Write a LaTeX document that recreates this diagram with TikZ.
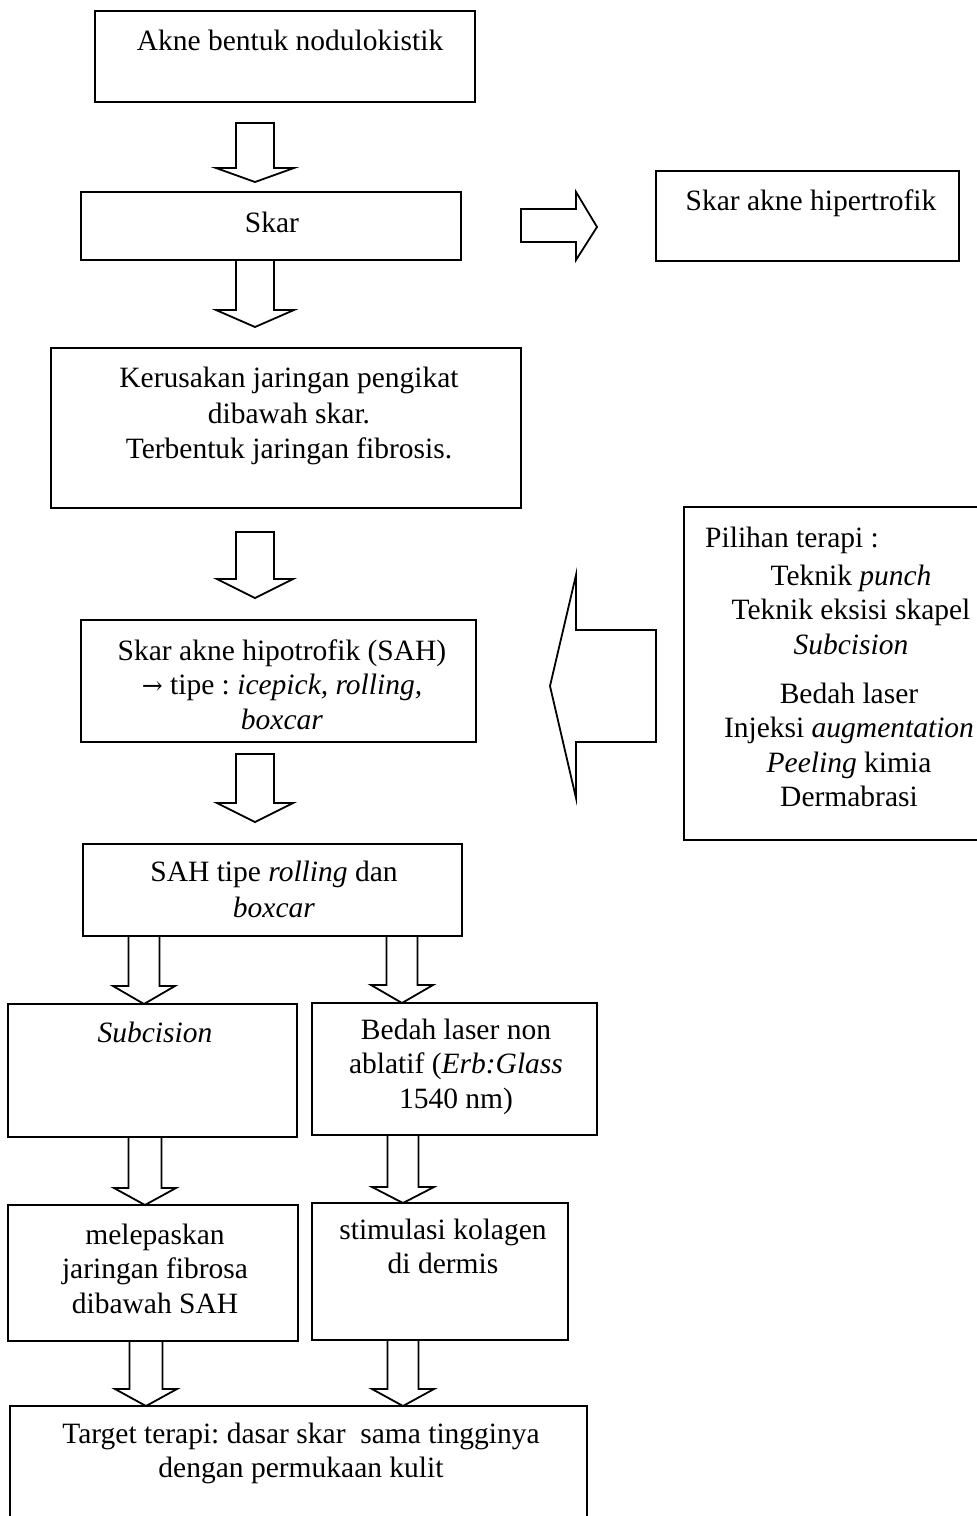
\documentclass[tikz,border=0pt]{standalone}
\usepackage{fontspec}
\setmainfont{Liberation Serif}
\newfontfamily\arrfont{DejaVu Serif}
\usetikzlibrary{fit}
\newcommand\fs{\fontsize{29.5}{34.5}\selectfont\frenchspacing}
\newcommand\dnarrow[6]{%
  \draw[blk] ({#1-#5},#2) -- ({#1-#5},#3) -- ({#1-#6},#3) -- (#1,#4) -- ({#1+#6},#3) -- ({#1+#5},#3) -- ({#1+#5},#2) -- cycle;}
\tikzset{
  box/.style={draw, line width=2pt, inner sep=0pt, outer sep=0pt},
  blk/.style={draw, line width=1.8pt, line join=miter, fill=white},
  txt/.style={font=\fs, align=center, inner sep=0pt, anchor=north},
}
\begin{document}
\begin{tikzpicture}[x=1pt,y=-1pt]
\useasboundingbox (0,0) rectangle (977,1516);
\fill[white] (0,0) rectangle (977,1516);
\clip (0,0) rectangle (977,1516);

% boxes
\node[box, fit={(95,11) (475,102)}] (b1) {};
\node[box, fit={(81,192) (461,260)}] (b2) {};
\node[box, fit={(656,171) (959,261)}] (b3) {};
\node[box, fit={(51,348) (521,508)}] (b4) {};
\node[box, fit={(81,620) (476,742)}] (b5) {};
\node[box, fit={(684,507) (995,840)}] (b6) {};
\node[box, fit={(83,844) (462,936)}] (b7) {};
\node[box, fit={(8,1004) (297,1137)}] (b8) {};
\node[box, fit={(312,1003) (597,1135)}] (b9) {};
\node[box, fit={(8,1205) (298,1341)}] (b10) {};
\node[box, fit={(312,1203) (568,1340)}] (b11) {};
\node[box, fit={(10,1406) (587,1535)}] (b12) {};

% texts
\node[txt] (t1) at (290,{50-24.15}) {\strut Akne bentuk nodulokistik};
\node[txt] (t2) at (272,{232-24.15}) {\strut Skar};
\node[txt] (t3) at (811,{210-24.15}) {\strut Skar akne hipertrofik};
\node[txt, font=\fontsize{29.5}{35.5}\selectfont\frenchspacing] (t4) at (289,{387-24.15})
  {\strut Kerusakan jaringan pengikat\\dibawah skar.\\Terbentuk jaringan fibrosis.};
\node[txt] (t5) at (282,{660-24.15})
  {\strut Skar akne hipotrofik (SAH)\\{\arrfont\fontsize{25}{34.5}\selectfont →} tipe : \textit{icepick, rolling,}\\\textit{boxcar}};
\node[font=\fs, inner sep=0pt, anchor=base west] (t6) at (705,547) {Pilihan terapi :};
\node[txt] (t6a) at (851,{585-24.15})
  {\strut Teknik \textit{punch}\\Teknik eksisi skapel\\\textit{Subcision}};
\node[txt] (t6b) at (849,{703-24.15})
  {\strut Bedah laser\\Injeksi \textit{augmentation}\\\textit{Peeling} kimia\\Dermabrasi};
\node[txt, font=\fontsize{29.5}{36}\selectfont\frenchspacing] (t7) at (274,{880-24.15})
  {\strut SAH tipe \textit{rolling} dan\\\textit{boxcar}};
\node[txt] (t8) at (155,{1042-24.15}) {\strut\textit{Subcision}};
\node[txt] (t9) at (456,{1039-24.15})
  {\strut Bedah laser non\\ablatif (\textit{Erb:Glass}\\1540 nm)};
\node[txt] (t10) at (155,{1244-24.15})
  {\strut melepaskan\\jaringan fibrosa\\dibawah SAH};
\node[txt] (t11) at (443,{1239-24.15})
  {\strut stimulasi kolagen\\di dermis};
\node[txt] (t12) at (301,{1443-24.15})
  {\strut Target terapi: dasar skar\ \ sama tingginya\\dengan permukaan kulit};

% block arrows down: cx, top, head start, tip, shaft half, head half
\dnarrow{255}{123}{168}{182}{19}{39}
\dnarrow{255}{260}{310}{327}{19}{39}
\dnarrow{255}{532}{579}{598}{19}{38}
\dnarrow{255}{754}{803}{822}{19}{38}
\dnarrow{144}{936}{986}{1004}{15.5}{31}
\dnarrow{402}{936}{985}{1003}{15.5}{31}
\dnarrow{145}{1137}{1188}{1205}{16.5}{31}
\dnarrow{403}{1135}{1187}{1203}{15.5}{31}
\dnarrow{146}{1341}{1389}{1406}{16.5}{31}
\dnarrow{403}{1340}{1389}{1406}{15.5}{31}

% right arrow Skar -> hipertrofik
\draw[blk] (521,209) -- (576,209) -- (576,192) -- (597,227) -- (576,260) -- (576,242) -- (521,242) -- cycle;
% big left arrow from Pilihan terapi
\draw[blk] (656,630) -- (576,630) -- (576,575) -- (550,686) -- (576,798) -- (576,742) -- (656,742) -- cycle;
\end{tikzpicture}
\end{document}
